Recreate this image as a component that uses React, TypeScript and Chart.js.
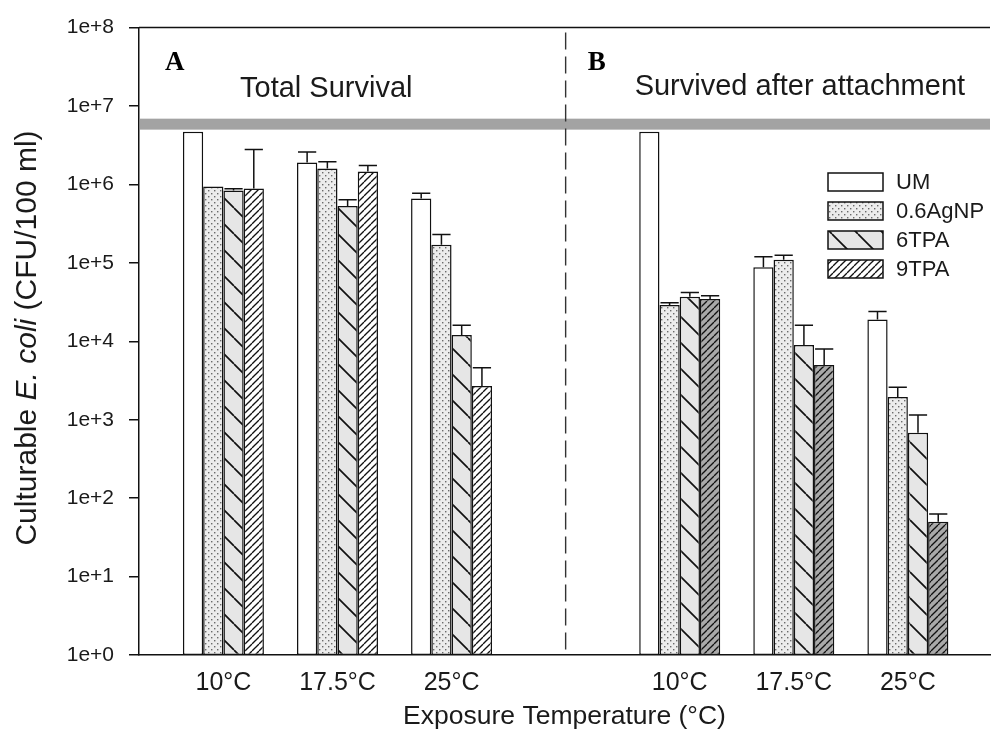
import React, { useEffect, useRef } from 'react';
import { Chart, registerables } from 'chart.js';

Chart.register(...registerables);

const FONT = 'Liberation Sans, Arial, Helvetica, sans-serif';
const SERIF = 'Liberation Serif, Times New Roman, serif';
const TEXT = '#1a1a1a';

const temperatures = ['10°C', '17.5°C', '25°C'];
const seriesNames = ['UM', '0.6AgNP', '6TPA', '9TPA'];
const panelLetters = ['A', 'B'];
const panelTitles = ['Total Survival', 'Survived after attachment'];
const xPositions = [0, 1, 2, 4, 5, 6];
const xLabels = [...temperatures, ...temperatures];
const panelDivider = 3;
const yTickValues = [1, 1e1, 1e2, 1e3, 1e4, 1e5, 1e6, 1e7, 1e8];
const yTickLabels = ['1e+0', '1e+1', '1e+2', '1e+3', '1e+4', '1e+5', '1e+6', '1e+7', '1e+8'];
const xTitle = 'Exposure Temperature (°C)';
const yTitleParts: [string, boolean][] = [['Culturable ', false], ['E. coli', true], [' (CFU/100 ml)', false]];

// Panel A: total survival
const totalUM = [4.7e6, 1.9e6, 6.6e5];
const totalUMUpper = [null, 2.6e6, 7.7e5];
const totalAgNP = [9.4e5, 1.6e6, 1.7e5];
const totalAgNPUpper = [null, 1.95e6, 2.3e5];
const total6TPA = [8.4e5, 5.3e5, 1.2e4];
const total6TPAUpper = [8.8e5, 6.4e5, 1.6e4];
const total9TPA = [8.9e5, 1.46e6, 2.7e3];
const total9TPAUpper = [2.8e6, 1.74e6, 4.6e3];

// Panel B: survived after attachment
const attachedUM = [4.7e6, 8.8e4, 1.9e4];
const attachedUMUpper = [null, 1.2e5, 2.4e4];
const attachedAgNP = [2.9e4, 1.1e5, 1.95e3];
const attachedAgNPUpper = [3.1e4, 1.25e5, 2.6e3];
const attached6TPA = [3.7e4, 9.0e3, 680];
const attached6TPAUpper = [4.2e4, 1.6e4, 1.15e3];
const attached9TPA = [3.45e4, 5.0e3, 50];
const attached9TPAUpper = [3.8e4, 8.0e3, 63];

// grey band (initial concentration)
const initialBand = [5.0e6, 6.9e6];

function makePattern(ctx: CanvasRenderingContext2D, size: number, bg: string, draw: (g: CanvasRenderingContext2D, s: number) => void) {
  const c = document.createElement('canvas');
  c.width = size;
  c.height = size;
  const g = c.getContext('2d')!;
  g.fillStyle = bg;
  g.fillRect(0, 0, size, size);
  draw(g, size);
  return ctx.createPattern(c, 'repeat')!;
}

export default function App() {
  const ref = useRef<HTMLCanvasElement>(null);

  useEffect(() => {
    const canvas = ref.current!;
    const ctx = canvas.getContext('2d')!;

    const dots = makePattern(ctx, 6, '#ececec', (g) => {
      g.fillStyle = '#6a6a6a';
      g.fillRect(1, 1, 1.4, 1.4);
      g.fillRect(4, 4, 1.4, 1.4);
    });
    const wide = makePattern(ctx, 26, '#e6e6e6', (g, s) => {
      g.strokeStyle = '#111';
      g.lineWidth = 1.7;
      for (let k = -1; k <= 1; k++) {
        g.beginPath();
        g.moveTo(k * s, 0);
        g.lineTo(k * s + s, s);
        g.stroke();
      }
    });
    const denseLines = (bg: string) =>
      makePattern(ctx, 7, bg, (g, s) => {
        g.strokeStyle = '#111';
        g.lineWidth = 1.3;
        for (let k = -1; k <= 1; k++) {
          g.beginPath();
          g.moveTo(k * s, s);
          g.lineTo(k * s + s, 0);
          g.stroke();
        }
      });
    const denseWhite = denseLines('#ffffff');
    const denseGrey = denseLines('#a9a9a9');

    const means = [
      [...totalUM, ...attachedUM],
      [...totalAgNP, ...attachedAgNP],
      [...total6TPA, ...attached6TPA],
      [...total9TPA, ...attached9TPA],
    ];
    const uppers = [
      [...totalUMUpper, ...attachedUMUpper],
      [...totalAgNPUpper, ...attachedAgNPUpper],
      [...total6TPAUpper, ...attached6TPAUpper],
      [...total9TPAUpper, ...attached9TPAUpper],
    ];
    const fills: any[] = [
      '#ffffff',
      dots,
      wide,
      (c: any) => (c.dataIndex >= 3 ? denseGrey : denseWhite),
    ];
    const legendFills = ['#ffffff', dots, wide, denseWhite];

    const datasets = seriesNames.map((name, s) => ({
      label: name,
      data: xPositions.map((x, i) => ({ x, y: means[s][i] })),
      upper: uppers[s],
      backgroundColor: fills[s],
      borderColor: '#111',
      borderWidth: 1.5,
      borderSkipped: false,
      categoryPercentage: 0.71,
      barPercentage: 1.0,
    }));

    const decor = {
      id: 'decor',
      beforeDatasetsDraw(chart: any) {
        const { ctx: c, chartArea: a, scales } = chart;
        const y = scales.y;
        const y1 = y.getPixelForValue(initialBand[1]);
        const y0 = y.getPixelForValue(initialBand[0]);
        c.save();
        c.fillStyle = '#a3a3a3';
        c.fillRect(a.left + 1, y1, a.right - a.left - 1, y0 - y1);
        c.restore();
      },
      afterDatasetsDraw(chart: any) {
        const { ctx: c, scales } = chart;
        const y = scales.y;
        c.save();
        c.strokeStyle = '#111';
        c.lineWidth = 1.5;
        chart.data.datasets.forEach((ds: any, di: number) => {
          const meta = chart.getDatasetMeta(di);
          meta.data.forEach((el: any, i: number) => {
            const up = ds.upper[i];
            if (up == null) return;
            const yt = y.getPixelForValue(up);
            const half = el.width * 0.45;
            c.beginPath();
            c.moveTo(el.x, el.y);
            c.lineTo(el.x, yt);
            c.moveTo(el.x - half, yt);
            c.lineTo(el.x + half, yt);
            c.stroke();
          });
        });
        c.restore();
      },
      afterDraw(chart: any) {
        const { ctx: c, chartArea: a, scales } = chart;
        const xs = scales.x;
        c.save();
        // top frame
        c.strokeStyle = '#111';
        c.lineWidth = 1.5;
        c.beginPath();
        c.moveTo(a.left, a.top);
        c.lineTo(a.right, a.top);
        c.stroke();
        // dashed divider
        const dx = xs.getPixelForValue(panelDivider);
        c.strokeStyle = '#333';
        c.lineWidth = 1.4;
        c.setLineDash([17, 7]);
        c.beginPath();
        c.moveTo(dx, a.top + 5);
        c.lineTo(dx, a.bottom);
        c.stroke();
        c.setLineDash([]);

        // panel letters and titles
        c.fillStyle = '#000';
        c.textBaseline = 'alphabetic';
        c.textAlign = 'left';
        c.font = `bold 27px ${SERIF}`;
        c.fillText(panelLetters[0], a.left + 26, 70);
        c.fillText(panelLetters[1], dx + 22, 70);
        c.fillStyle = TEXT;
        c.font = `29px ${FONT}`;
        c.fillText(panelTitles[0], a.left + 101, 97);
        c.fillText(panelTitles[1], dx + 69, 95);

        // legend
        const lx = 828;
        seriesNames.forEach((name, i) => {
          const cy = 182 + i * 29;
          c.fillStyle = legendFills[i];
          c.fillRect(lx, cy - 9, 55, 18);
          c.strokeStyle = '#111';
          c.lineWidth = 1.5;
          c.strokeRect(lx, cy - 9, 55, 18);
          c.fillStyle = TEXT;
          c.font = `22px ${FONT}`;
          c.textBaseline = 'middle';
          c.fillText(name, lx + 68, cy + 1);
        });

        // y title with italic part
        c.translate(28, 338);
        c.rotate(-Math.PI / 2);
        c.textBaseline = 'middle';
        c.textAlign = 'left';
        const fontFor = (it: boolean) => `${it ? 'italic ' : ''}30px ${FONT}`;
        let total = 0;
        yTitleParts.forEach(([t, it]) => {
          c.font = fontFor(it);
          total += c.measureText(t).width;
        });
        let x = -total / 2;
        c.fillStyle = TEXT;
        yTitleParts.forEach(([t, it]) => {
          c.font = fontFor(it);
          c.fillText(t, x, 0);
          x += c.measureText(t).width;
        });
        c.restore();
      },
    };

    const chart = new Chart(ctx, {
      type: 'bar',
      data: { datasets: datasets as any },
      options: {
        responsive: false,
        animation: false,
        events: [],
        layout: { padding: { top: 25, right: 3, left: 0, bottom: 0 } },
        plugins: { legend: { display: false }, tooltip: { enabled: false } },
        scales: {
          x: {
            type: 'linear',
            min: -0.74,
            max: 6.72,
            offset: false,
            grid: { display: false, drawTicks: false, offset: false },
            border: { display: true, color: '#111', width: 1.5 },
            afterBuildTicks: (s: any) => {
              s.ticks = xPositions.map((v) => ({ value: v }));
            },
            ticks: {
              callback: (_v: any, i: number) => xLabels[i],
              font: { family: FONT, size: 25 },
              color: TEXT,
              padding: 13,
              maxRotation: 0,
              autoSkip: false,
            },
            title: {
              display: true,
              text: xTitle,
              font: { family: FONT, size: 26.5, lineHeight: 1 },
              color: TEXT,
              padding: { top: 0, bottom: -1 },
            },
            afterFit: (s: any) => {
              s.height = 74;
            },
          } as any,
          y: {
            type: 'logarithmic',
            min: 1,
            max: 1e8,
            afterBuildTicks: (s: any) => {
              s.ticks = yTickValues.map((v) => ({ value: v, major: true }));
            },
            ticks: {
              callback: (_v: any, i: number) => yTickLabels[i],
              font: { family: FONT, size: 21 },
              color: TEXT,
              padding: 15,
              autoSkip: false,
            },
            grid: { drawOnChartArea: false, drawTicks: true, tickLength: 10, color: '#111', lineWidth: 1.5 },
            border: { display: true, color: '#111', width: 1.5 },
            afterFit: (s: any) => {
              s.width = 139;
            },
          } as any,
        },
      },
      plugins: [decor],
    });

    return () => chart.destroy();
  }, []);

  return (
    <div style={{ position: 'absolute', left: 0, top: 0, width: 993, height: 729, background: '#fff' }}>
      <canvas ref={ref} width={993} height={729} style={{ display: 'block', width: 993, height: 729 }} />
    </div>
  );
}
